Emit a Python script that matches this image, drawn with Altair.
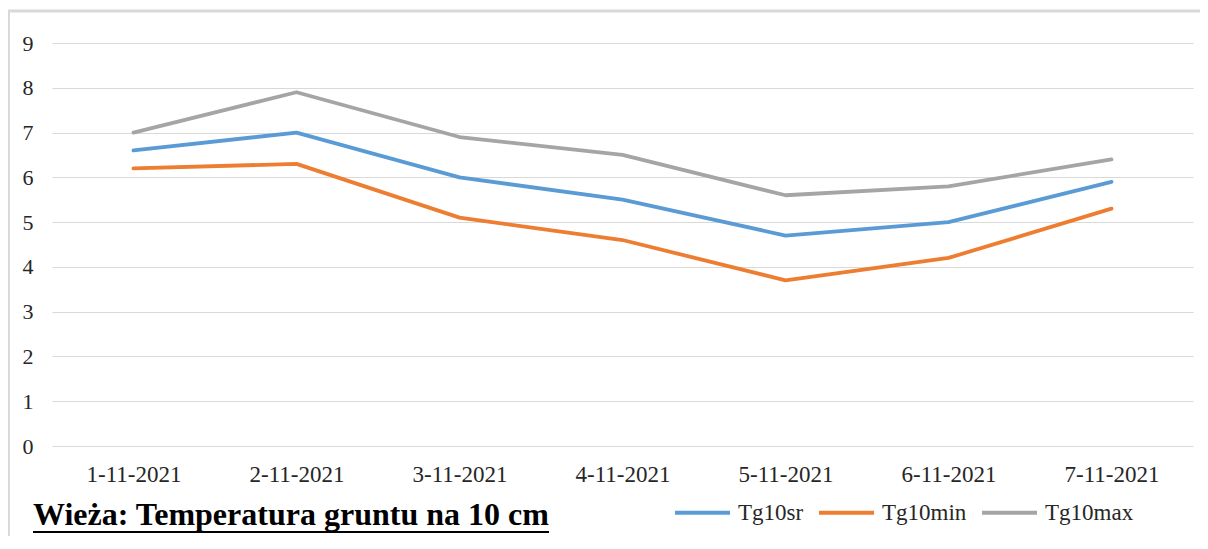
import altair as alt
import pandas as pd

dates = ["1-11-2021", "2-11-2021", "3-11-2021", "4-11-2021",
         "5-11-2021", "6-11-2021", "7-11-2021"]
tg10sr = [6.6, 7.0, 6.0, 5.5, 4.7, 5.0, 5.9]
tg10min = [6.2, 6.3, 5.1, 4.6, 3.7, 4.2, 5.3]
tg10max = [7.0, 7.9, 6.9, 6.5, 5.6, 5.8, 6.4]
series_names = ["Tg10sr", "Tg10min", "Tg10max"]
series_colors = ["#5B9BD5", "#ED7D31", "#A5A5A5"]
y_ticks = list(range(0, 10))
title_text = "Wieża: Temperatura gruntu na 10 cm"

rows = []
for name, vals in zip(series_names, [tg10sr, tg10min, tg10max]):
    for d, v in zip(dates, vals):
        rows.append({"date": d, "value": v, "series": name})
df = pd.DataFrame(rows)

W, H = 1141, 403
FONT = "Liberation Serif, Times New Roman, serif"

lines = alt.Chart(df).mark_line(strokeWidth=3.8, strokeCap="round", strokeJoin="round").encode(
    x=alt.X("date:O", sort=dates, title=None,
            axis=alt.Axis(labelAngle=0, domain=False, ticks=False, grid=False,
                          labelFont=FONT, labelFontSize=23, labelColor="#262626",
                          labelPadding=17)),
    y=alt.Y("value:Q", title=None,
            scale=alt.Scale(domain=[0, 9], nice=False),
            axis=alt.Axis(values=y_ticks, domain=False, ticks=False,
                          gridColor="#D9D9D9", gridWidth=1.2,
                          labelFont=FONT, labelFontSize=22, labelColor="#262626",
                          labelPadding=19)),
    color=alt.Color("series:N", sort=series_names,
                    scale=alt.Scale(domain=series_names, range=series_colors),
                    legend=alt.Legend(title=None, orient="none", direction="horizontal",
                                      legendX=621, legendY=440, gridAlign="each",
                                      symbolType="stroke", symbolSize=3025,
                                      symbolStrokeWidth=4, labelFont=FONT,
                                      labelFontSize=23, labelColor="#262626",
                                      labelOffset=6, columnPadding=7)),
)

title_df = pd.DataFrame({"t": [title_text]})
title_mark = alt.Chart(title_df).mark_text(
    align="left", baseline="alphabetic", font=FONT, fontSize=32,
    fontWeight="bold", color="#000000"
).encode(text="t:N", x=alt.value(-19), y=alt.value(482))

underline = alt.Chart(title_df).mark_rule(color="#000000", strokeWidth=2).encode(
    x=alt.value(-19), x2=alt.value(497), y=alt.value(489))

top_border = alt.Chart(title_df).mark_rule(color="#D9D9D9", strokeWidth=3).encode(
    x=alt.value(-44), x2=alt.value(W + 7), y=alt.value(-32))
left_border = alt.Chart(title_df).mark_rule(color="#D9D9D9", strokeWidth=2).encode(
    x=alt.value(-43), y=alt.value(-33), y2=alt.value(H + 90))

chart = alt.layer(lines, title_mark, underline, top_border, left_border).properties(
    width=W, height=H,
    autosize=alt.AutoSizeParams(type="none"),
    padding={"left": 44, "top": 35, "right": 7, "bottom": 90},
).configure(background="white", font=FONT).configure_view(stroke=None)

chart.save("out.html", embed_options={"renderer": "svg", "actions": False})
